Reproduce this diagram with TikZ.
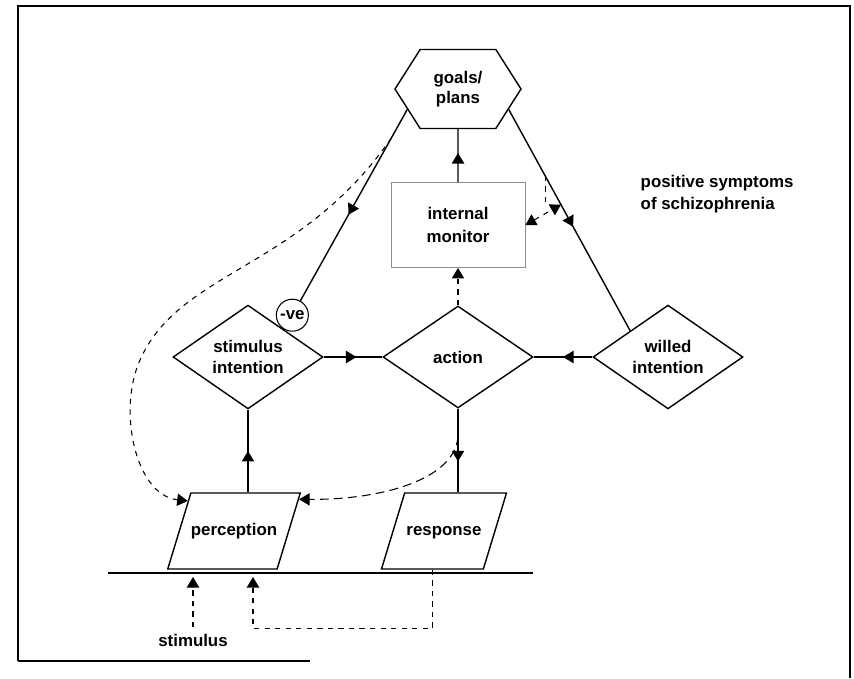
\documentclass[tikz,border=0pt]{standalone}
\usepackage{fontspec}
\setmainfont{Liberation Sans}
\usetikzlibrary{positioning, shapes.geometric, shapes.symbols, arrows.meta, decorations.markings}

\begin{document}
\begin{tikzpicture}[node distance=4.2cm, auto, line width=0.8pt, font=\fontsize{9.6}{11.5}\selectfont\bfseries]
    \tikzstyle{hexa} = [signal, signal to=east and west, signal pointer angle=115, draw, minimum width=2.52cm, minimum height=1.58cm, inner sep=0pt, align=center]
    \tikzstyle{monitor} = [rectangle, draw=black!45, line width=0.5pt, minimum width=2.68cm, minimum height=1.7cm, align=center]
    \tikzstyle{decision} = [diamond, draw, minimum width=3cm, minimum height=2.04cm, inner sep=0pt, align=center]
    \tikzstyle{io} = [trapezium, trapezium left angle=73, trapezium right angle=107, trapezium stretches body=true, draw, text height=7pt, text depth=2.3pt, inner ysep=16.9pt, inner xsep=0pt, minimum width=2.5cm, minimum height=1.52cm]
    \tikzstyle{sign} = [circle, draw, line width=0.6pt, minimum size=0.64cm, inner sep=0.5pt]
    \tikzstyle{link} = [dashed, line width=0.6pt]
    \tikzset{flow/.style={postaction={decorate}, decoration={markings, mark=at position #1 with {\arrow{Triangle[width=7pt,length=6pt]}}}}, flow/.default=0.55}

    \useasboundingbox (0,0) rectangle (17.08,-13.56);

    % Frame
    \draw [line width=1.6pt] (0.36,-13.22) -- (0.36,-0.12) -- (17.0,-0.12) -- (17.0,-13.56);
    \draw [line width=1.6pt] (0.36,-13.22) -- (6.2,-13.22);

    % Intentions and action
    \node [decision] (action) at (9.16,-7.14) {action};
    \node [decision, left of=action] (stim) {stimulus\\intention};
    \node [decision, right of=action] (willed) {willed\\intention};

    % Monitor and goals
    \node [monitor, above of=action, yshift=-1.56cm] (monitor) {internal\\[2pt]monitor};
    \node [hexa, above of=monitor, yshift=-1.48cm] (goals) {goals/\\plans};
    \node [sign] (neg) at ([shift={(0.13,0.31)}]stim.north east) {-ve};

    % Perception and response
    \node [io, below of=stim, xshift=-0.28cm, yshift=0.72cm] (perc) {perception};
    \node [io, below of=action, xshift=-0.28cm, yshift=0.72cm] (response) {response};

    % Environment
    \draw [line width=1.3pt] (2.16,-11.46) -- (10.66,-11.46);
    \node (stimulus) at (3.86,-12.8) {stimulus};
    \coordinate (in1) at (3.86,-11.54);
    \coordinate (in2) at (5.06,-11.54);

    % Annotation
    \node [align=left, anchor=west, inner sep=0pt] (note) at (12.8,-3.88) {positive symptoms\\[1pt]of schizophrenia};

    % Connections
    \draw [flow] (monitor) -- (goals);
    \draw [flow] (goals.202) -- coordinate[pos=0.15] (tap1) (neg);
    \draw [flow=0.53] (goals.338) -- coordinate[pos=0.3] (tap3) coordinate[pos=0.43] (tap4) (willed.north west);
    \draw [flow=0.56] (stim) -- (action);
    \draw [flow=0.5] (willed) -- (action);
    \draw [flow=0.5] (stim.south |- perc.north) -- (stim.south);
    \draw [flow=0.63] (action.south) -- coordinate[pos=0.33] (tap2) (action.south |- response.north);

    % Monitoring loops
    \draw [link, -{Triangle[width=7pt,length=6pt]}] (action.north) -- (monitor.south);
    \draw [link, {Triangle[width=7pt,length=6pt]}-{Triangle[width=7pt,length=6pt]}] (monitor.east) -- (tap4);
    \draw [link] (tap3) -- (tap3 |- tap4);
    \draw [link, -{Triangle[width=7pt,length=6pt]}] (tap1) .. controls (6.0,-5.4) and (3.6,-5.4) .. (2.8,-7.2) .. controls (2.35,-8.2) and (2.7,-9.9) .. (perc.147);
    \draw [link, dash pattern=on 5pt off 3pt, -{Triangle[width=7pt,length=6pt]}] (tap2) .. controls (9.1,-9.6) and (7.6,-10.0) .. (perc.26);
    \draw [link, -{Triangle[width=7pt,length=6pt]}] (stimulus) -- (in1);
    \draw [link, -{Triangle[width=7pt,length=6pt]}] (response.bottom side) -- ++(0,-1.18) -| (in2);
\end{tikzpicture}
\end{document}
